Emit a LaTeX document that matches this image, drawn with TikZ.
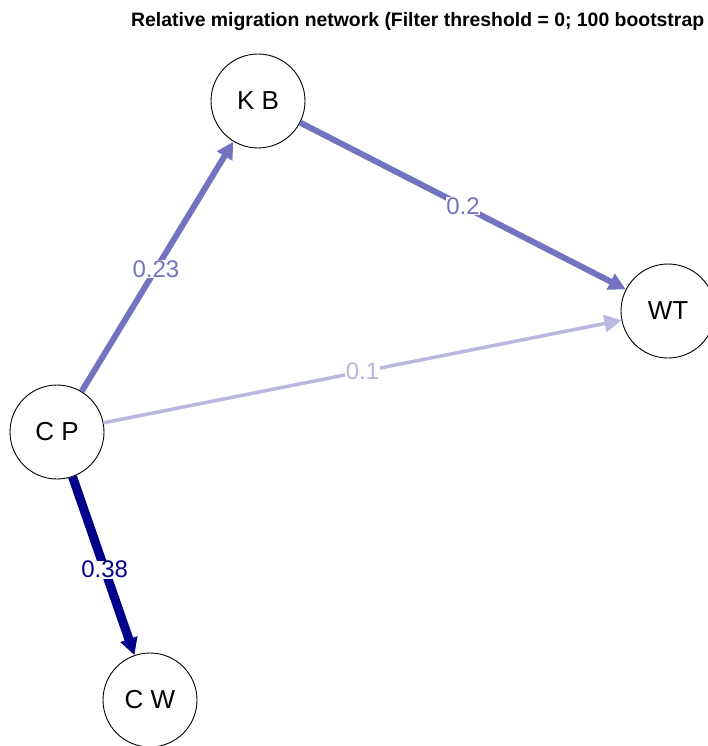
\documentclass[tikz,border=0pt]{standalone}
\usepackage{fontspec}
\setmainfont{Liberation Sans}
\usetikzlibrary{arrows.meta}
\definecolor{netblue}{RGB}{0,0,139}
\colorlet{wmid}{netblue!55!white}
\colorlet{wlow}{netblue!28!white}
\tikzset{
  site/.style={circle, draw=black, line width=0.9pt, fill=white, minimum size=94pt, inner sep=0pt, font=\fontsize{26}{26}\selectfont},
  flow/.style={-{Triangle[length=17pt,width=17pt]}},
  wlabel/.style={fill=white, inner sep=0.5pt, font=\fontsize{24}{24}\selectfont},
}
\begin{document}
\begin{tikzpicture}[x=1pt,y=-1pt]
\useasboundingbox (0,0) rectangle (707,746);
\node[anchor=base west, font=\bfseries\fontsize{19.4}{19.4}\selectfont, inner sep=0pt] (title) at (131,27) {Relative migration network (Filter threshold = 0; 100 bootstrap};

\node[site] (KB) at (258,101) {K B};
\node[site] (WT) at (668,311) {WT};
\node[site] (CP) at (57,432) {C P};
\node[site] (CW) at (150,700) {C W};

\draw[flow, wlow, line width=3.5pt] (CP) -- (WT) node[wlabel, text=wlow, pos=0.5] (lCPWT) {0.1};
\draw[flow, wmid, line width=6pt] (KB) -- (WT) node[wlabel, text=wmid, pos=0.5] (lKBWT) {0.2};
\draw[flow, wmid, line width=6pt] (CP) -- (KB) node[wlabel, text=wmid, pos=0.49] (lCPKB) {0.23};
\draw[flow, netblue, line width=9pt] (CP) -- (CW) node[wlabel, text=netblue, pos=0.52] (lCPCW) {0.38};
\end{tikzpicture}
\end{document}
